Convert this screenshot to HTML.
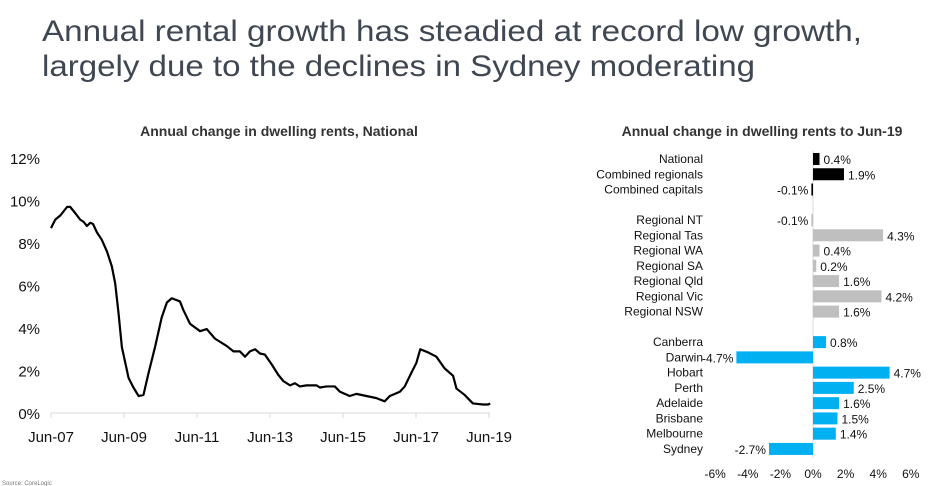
<!DOCTYPE html>
<html><head><meta charset="utf-8"><style>
body{margin:0;background:#fff;}
svg{display:block;font-family:"Liberation Sans",sans-serif;}
</style></head><body>
<svg id="root" width="931" height="486">
<text x="42" y="41" font-size="30" fill="#3f4752" textLength="820" lengthAdjust="spacingAndGlyphs">Annual rental growth has steadied at record low growth,</text>
<text x="42" y="76" font-size="30" fill="#3f4752" textLength="713" lengthAdjust="spacingAndGlyphs">largely due to the declines in Sydney moderating</text>
<text x="279" y="136" font-size="14" font-weight="bold" fill="#333" text-anchor="middle">Annual change in dwelling rents, National</text>
<text x="762" y="136" font-size="14" font-weight="bold" fill="#333" text-anchor="middle">Annual change in dwelling rents to Jun-19</text>
<g id="line"></g>
<g id="bars"></g>
<text x="2" y="485" font-size="6" fill="#777">Source: CoreLogic</text>
</svg>
<script>
const NS="http://www.w3.org/2000/svg";
function mk(p,t,a){const e=document.createElementNS(NS,t);for(const k in a)e.setAttribute(k,a[k]);p.appendChild(e);return e;}
// line chart data
const months=[0,1.4,3.1,5.3,6.3,8.0,9.6,10.7,11.8,12.9,13.8,15.1,16.7,18.4,20.0,21.1,22.2,23.3,25.5,27.1,28.8,30.4,32.1,34.2,36.4,38.1,39.7,42.4,43.5,45.7,49.0,51.2,53.9,57.8,60.0,62.1,63.8,65.4,67.1,68.7,70.3,72.5,74.7,76.4,78.6,80.2,81.8,84.0,87.3,88.4,90.6,93.3,95.0,98.2,100.4,103.7,107.0,109.7,111.4,114.7,116.3,118.5,120.1,121.4,124.0,126.7,129.4,132.2,133.3,136.0,138.7,142.0,143.7,144.4];
const values=[8.7,9.1,9.3,9.7,9.7,9.4,9.1,9.0,8.8,8.95,8.9,8.5,8.15,7.6,6.9,6.1,4.7,3.1,1.65,1.2,0.8,0.85,1.9,3.1,4.5,5.2,5.4,5.25,4.85,4.2,3.85,3.95,3.5,3.15,2.9,2.9,2.65,2.9,3.0,2.8,2.75,2.3,1.8,1.5,1.3,1.4,1.25,1.3,1.3,1.2,1.25,1.25,1.0,0.8,0.9,0.8,0.7,0.55,0.8,1.0,1.25,1.9,2.35,3.0,2.85,2.65,2.1,1.75,1.15,0.85,0.45,0.4,0.4,0.45];
const yTicks=[0,2,4,6,8,10,12];
const xTickLabels=["Jun-07","Jun-09","Jun-11","Jun-13","Jun-15","Jun-17","Jun-19"];
const lx=m=>51+m*(438/144), ly=v=>413-v*21.25;
const L=document.getElementById('line');
const ax=mk(L,'line',{x1:51,x2:490,y1:413,y2:413,stroke:'#d9d9d9','stroke-width':1});


yTicks.forEach(v=>{const t=mk(L,'text',{x:40,y:ly(v)+6,'font-size':15,'text-anchor':'end',fill:'#111'});t.textContent=v+'%';

});
xTickLabels.forEach((s,i)=>{const x=lx(i*24);mk(L,'line',{x1:x,x2:x,y1:413,y2:418,stroke:'#d9d9d9'});
const t=mk(L,'text',{x:x,y:442,'font-size':15,'text-anchor':'middle',fill:'#111'});t.textContent=s;

});
const p=mk(L,'polyline',{points:months.map((m,i)=>lx(m)+','+ly(values[i])).join(' '),fill:'none',stroke:'#000','stroke-width':2.2,'stroke-linejoin':'round'});


// bar chart data
const cats=["National","Combined regionals","Combined capitals","Regional NT","Regional Tas","Regional WA","Regional SA","Regional Qld","Regional Vic","Regional NSW","Canberra","Darwin","Hobart","Perth","Adelaide","Brisbane","Melbourne","Sydney"];
const rowIdx=[0,1,2,4,5,6,7,8,9,10,12,13,14,15,16,17,18,19];
const barVals=[0.4,1.9,-0.1,-0.1,4.3,0.4,0.2,1.6,4.2,1.6,0.8,-4.7,4.7,2.5,1.6,1.5,1.4,-2.7];
const barColors=["#000","#000","#000","#bfbfbf","#bfbfbf","#bfbfbf","#bfbfbf","#bfbfbf","#bfbfbf","#bfbfbf","#00b0f0","#00b0f0","#00b0f0","#00b0f0","#00b0f0","#00b0f0","#00b0f0","#00b0f0"];
const bTicks=[-6,-4,-2,0,2,4,6];
const bx=v=>813+v*16.3, by=i=>159+i*15.26;
const B=document.getElementById('bars');
mk(B,'line',{x1:813,x2:813,y1:151,y2:458,stroke:'#d9d9d9'});
cats.forEach((c,i)=>{const y=by(rowIdx[i]),v=barVals[i];
const r=mk(B,'rect',{x:Math.min(bx(0),bx(v)),y:y-6,width:Math.abs(bx(v)-bx(0)),height:12,fill:barColors[i]});


const l=mk(B,'text',{x:703,y:y+4,'font-size':12,'text-anchor':'end',fill:'#111'});l.textContent=c;


const vl=mk(B,'text',{x:v>=0?bx(v)+4:bx(v)-3,y:y+5,'font-size':12,'text-anchor':v>=0?'start':'end',fill:'#111'});vl.textContent=v.toFixed(1)+'%';

});
bTicks.forEach(v=>{const t=mk(B,'text',{x:bx(v),y:478,'font-size':12,'text-anchor':'middle',fill:'#111'});t.textContent=v+'%';

});
</script>
</body></html>
